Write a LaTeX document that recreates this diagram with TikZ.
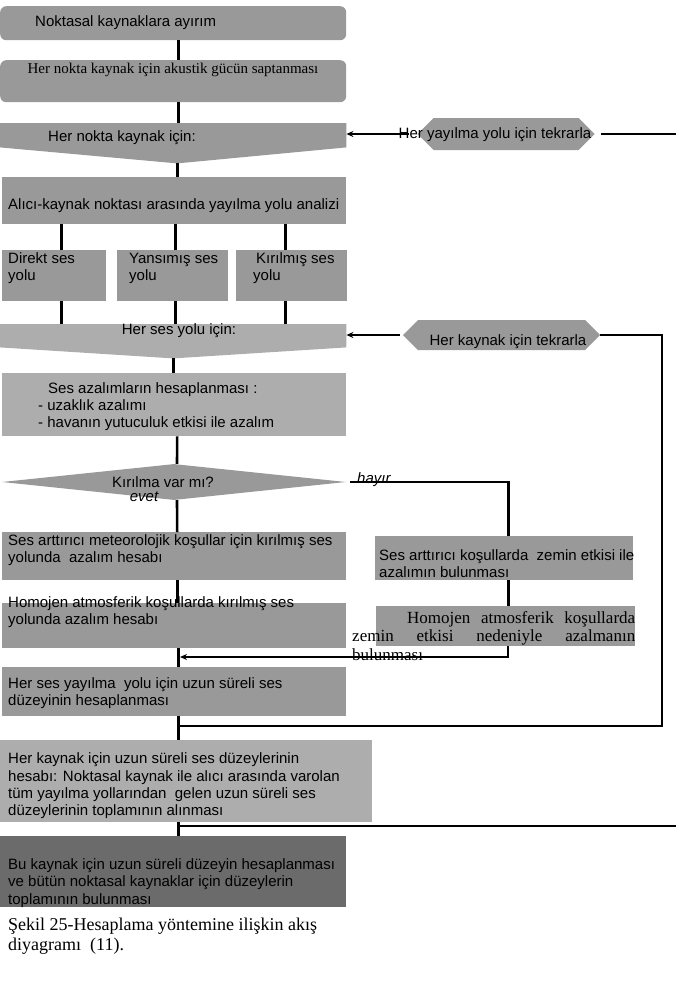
\documentclass[tikz,border=0pt]{standalone}
\usepackage{fontspec}
\setmainfont{Liberation Serif}
\setsansfont{Liberation Sans}
\usetikzlibrary{shapes.geometric,shapes.symbols,arrows.meta}
\definecolor{boxgray}{HTML}{999999}
\definecolor{palegray}{HTML}{ADADAD}
\definecolor{deepgray}{HTML}{6B6B6B}
\newcommand\sanstext{\sffamily\fontsize{15}{17}\selectfont}
\newcommand\seriftext{\rmfamily\fontsize{15}{17}\selectfont}
\newcommand\serifbig{\rmfamily\fontsize{17}{18.5}\selectfont}
\newcommand\serifcap{\rmfamily\fontsize{18}{20}\selectfont}
\begin{document}
\begin{tikzpicture}[x=1pt,y=-1pt,
	box/.style={fill=boxgray,inner sep=0,anchor=north west},
	frame/.style={inner sep=0,anchor=north west},
	hexa/.style={signal,signal to=west and east,signal pointer angle=90,fill=boxgray,inner sep=0},
	txt/.style={font=\sanstext,inner sep=0,anchor=west,align=left},
	ln/.style={line width=2.6pt},
	back/.style={line width=2.2pt},
	arr/.style={line width=2pt,-{Stealth[length=7pt,width=6pt]}}]
	\useasboundingbox (0,0) rectangle (676,999);
	\node[box,rounded corners=6pt,minimum width=346,minimum height=34] (split) at (0,6) {};
	\node[txt] (splitlbl) at (35,23) {Noktasal kaynaklara ayırım};
	\node[box,rounded corners=6pt,minimum width=346,minimum height=42] (power) at (0,60) {};
	\node[font=\seriftext,inner sep=0] (powerlbl) at (173,70) {Her nokta kaynak için akustik gücün saptanması};
	\node[frame,minimum width=346,minimum height=40] (eachpt) at (0,123) {};
	\fill[boxgray] (eachpt.north west) -- (eachpt.north east) -- ([yshift=16]eachpt.south east) -- ([xshift=4]eachpt.south) -- ([yshift=16]eachpt.south west) -- cycle;
	\node[txt] (eachptlbl) at (48,138) {Her nokta kaynak için:};
	\node[box,minimum width=344,minimum height=47] (analyse) at (2,177) {};
	\node[txt] (analyselbl) at (8,206) {Alıcı-kaynak noktası arasında yayılma yolu analizi};
	\node[box,minimum width=104,minimum height=51] (direct) at (2,250) {};
	\node[box,minimum width=111,minimum height=51] (reflect) at (117,250) {};
	\node[box,minimum width=111,minimum height=51] (refract) at (236,250) {};
	\node[txt] (directlbl) at (8,268) {Direkt ses\\yolu};
	\node[txt] (reflectlbl) at (129,268) {Yansımış ses\\yolu};
	\node[txt] (refractlbl) at (253,268) {\hspace*{3pt}Kırılmış ses\\yolu};
	\node[frame,minimum width=346,minimum height=34] (eachpath) at (0,324) {};
	\fill[palegray] (eachpath.north west) -- (eachpath.north east) -- ([yshift=11]eachpath.south east) -- (eachpath.south) -- ([yshift=11]eachpath.south west) -- cycle;
	\node[font=\sanstext,inner sep=0] (eachpathlbl) at (179,331) {Her ses yolu için:};
	\node[box,fill=palegray,minimum width=344,minimum height=63] (atten) at (2,373) {};
	\node[txt] (attenlbl) at (38,407) {\hspace*{10pt}Ses azalımların hesaplanması :\\- uzaklık azalımı\\- havanın yutuculuk etkisi ile azalım};
	\node[diamond,fill=boxgray,inner sep=0,minimum width=344,minimum height=36] (ask) at (174,482) {};
	\node[font=\sanstext,inner sep=0] (asklbl) at (163,482) {Kırılma var mı?};
	\node[font=\sanstext\itshape,inner sep=0] (yes) at (144,497) {evet};
	\node[font=\sanstext\itshape,inner sep=0,anchor=base west] (no) at (357,483) {hayır};
	\node[box,minimum width=344,minimum height=48] (meteo) at (2,532) {};
	\node[txt] (meteolbl) at (8,550) {Ses arttırıcı meteorolojik koşullar için kırılmış ses\\yolunda\ \ azalım hesabı};
	\node[box,minimum width=344,minimum height=45] (homog) at (2,603) {};
	\node[txt] (homoglbl) at (8,612) {Homojen atmosferik koşullarda kırılmış ses\\yolunda azalım hesabı};
	\node[box,minimum width=344,minimum height=49] (level) at (2,667) {};
	\node[txt] (levellbl) at (8,693) {Her ses yayılma\ \ yolu için uzun süreli ses\\düzeyinin hesaplanması};
	\node[box,minimum width=258,minimum height=44] (ground) at (375,536) {};
	\node[txt] (groundlbl) at (379,564) {Ses arttırıcı koşullarda\ \ zemin etkisi ile\\azalımın bulunması};
	\node[box,minimum width=259,minimum height=40] (homground) at (376,606) {};
	\node[font=\serifbig,inner sep=0,anchor=north west,align=left] (homgroundlbl) at (352,611) {\hspace*{55pt}\makebox[228pt][s]{Homojen atmosferik koşullarda}\\\makebox[283pt][s]{zemin etkisi nedeniyle azalmanın}\\bulunması};
	\node[hexa,minimum width=177,minimum height=32] (redopath) at (506,134) {};
	\node[font=\sanstext,inner sep=0] (redopathlbl) at (495,135) {Her yayılma yolu için tekrarla};
	\node[hexa,minimum width=197,minimum height=30] (redosrc) at (501.5,335) {};
	\node[font=\sanstext,inner sep=0] (redosrclbl) at (508,342) {Her kaynak için tekrarla};
	\node[box,fill=palegray,minimum width=372,minimum height=82] (sumpath) at (0,740) {};
	\node[txt,font=\sffamily\fontsize{15}{17.4}\selectfont] (sumpathlbl) at (8,786) {Her kaynak için uzun süreli ses düzeylerinin\\hesabı: Noktasal kaynak ile alıcı arasında varolan\\tüm yayılma yollarından\ \ gelen uzun süreli ses\\düzeylerinin toplamının alınması};
	\node[box,fill=deepgray,minimum width=346,minimum height=71] (total) at (0,836) {};
	\node[txt,font=\sffamily\fontsize{15}{17.5}\selectfont] (totallbl) at (8,883) {Bu kaynak için uzun süreli düzeyin hesaplanması\\ve bütün noktasal kaynaklar için düzeylerin\\toplamının bulunması};
	\node[font=\serifcap,inner sep=0,anchor=west,align=left] (caption) at (8,936) {Şekil 25-Hesaplama yöntemine ilişkin akış\\diyagramı\ \ (11).};
	\coordinate (mj) at (180,657);
	\coordinate (lj) at (178,726);
	\coordinate (rc) at (662,726);
	\coordinate (sj) at (178,826);
	\coordinate (e1) at (676,133);
	\coordinate (e2) at (676,826);
	\draw[ln] ([xshift=5]split.south) -- ([xshift=5]power.north);
	\draw[ln] ([xshift=5]power.south) -- ([xshift=5]eachpt.north);
	\draw[ln] ([xshift=4]eachpt.south) -- ([xshift=3]analyse.north);
	\foreach \b/\dx in {direct/7,reflect/2.5,refract/-6.5}{
		\draw[ln] ([xshift=\dx]\b.north) -- ([xshift=\dx]\b.north |- analyse.south);
		\draw[ln] ([xshift=\dx]\b.south) -- ([xshift=\dx]\b.south |- eachpath.north);
	}
	\draw[ln] (eachpath.south) -- (eachpath.south |- atten.north);
	\draw[ln] ([xshift=3]atten.south) -- ([xshift=3]ask.north);
	\draw[ln] ([xshift=3]ask.south) -- ([xshift=3]meteo.north);
	\draw[ln] ([xshift=3]meteo.south) -- ([xshift=3]homog.north);
	\draw[ln] ([xshift=4]homog.south) -- ([xshift=4]level.north);
	\draw[ln] ([xshift=4]level.south) -- ([xshift=4]level.south |- sumpath.north);
	\draw[ln] ([xshift=5]total.north |- sumpath.south) -- ([xshift=5]total.north);
	\draw[ln] ([xshift=4]ask.east) -| ([xshift=4]ground.north);
	\draw[ln] ([xshift=4]ground.south) -- ([xshift=2.5]homground.north);
	\draw[arr] ([xshift=2.5]homground.south) |- (mj);
	\draw[back] (lj) -- (rc) |- (redosrc.east);
	\draw[arr] ([xshift=-3]redosrc.west) -- (redosrc.west -| eachpath.east);
	\draw[arr] ([xshift=-8]redopath.west) -- (redopath.west -| eachpt.east);
	\draw[back] ([xshift=6]redopath.east) -- (redopath.east -| e1);
	\draw[back] (sj) -- (e2);
\end{tikzpicture}
\end{document}
